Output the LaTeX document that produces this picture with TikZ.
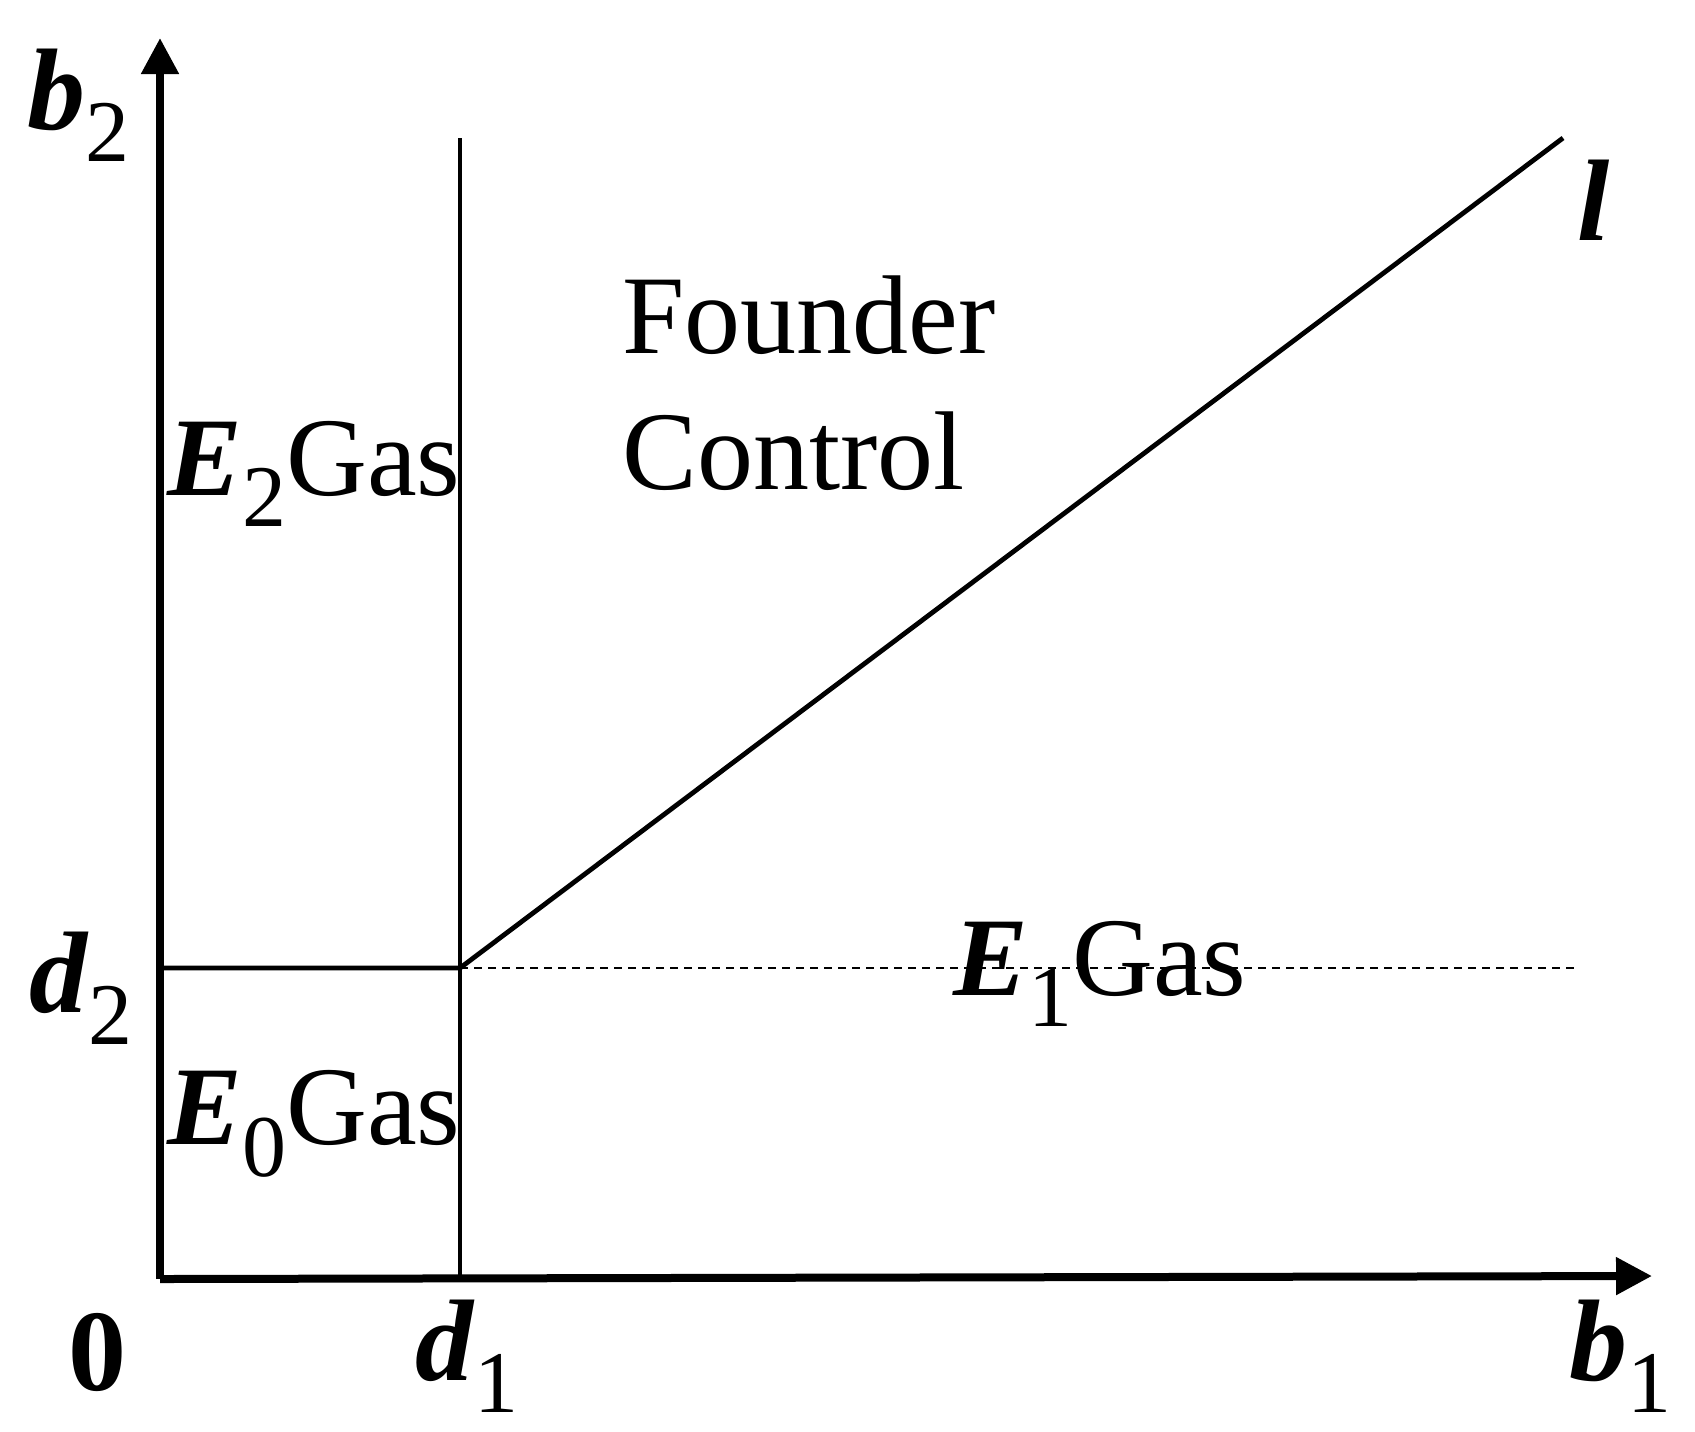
\documentclass[tikz,border=0pt]{standalone}
\usepackage{fontspec}
\setmainfont{Liberation Serif}
\usetikzlibrary{arrows.meta}
\newcommand{\mv}[2]{\textbf{\textit{#1}}\raisebox{-0.28em}{\fontsize{44}{46}\selectfont #2}}
\begin{document}
\begin{tikzpicture}[x=0.5pt,y=-0.5pt,
  lab/.style={font=\fontsize{56}{60}\selectfont,inner sep=0pt},
  mth/.style={font=\fontsize{58}{60}\selectfont,inner sep=0pt},
  axis/.style={line width=4pt,-{Triangle[length=18pt,width=18pt]}},
  thin/.style={line width=1.6pt}]
\useasboundingbox (0,0) rectangle (1695,1431);
\coordinate (O) at (160,1279);
\coordinate (Ytop) at (160,38);
\coordinate (Xend) at (1652,1276);
\coordinate (D1top) at (460,138);
\coordinate (D1bot) at (460,1279);
\coordinate (D2left) at (160,968);
\coordinate (P) at (460,968);
\coordinate (Lend) at (1563,138);
\coordinate (Dend) at (1576,968);
\draw[axis] (O) -- (Ytop);
\draw[axis] (O) -- (Xend);
\draw[thin] (D1top) -- (D1bot);
\draw[line width=2.4pt] (D2left) -- (P) -- (Lend);
\draw[line width=0.8pt,dash pattern=on 4pt off 3pt] (P) -- (Dend);
\node[mth] (b2) at (78,105) {\mv{b}{2}};
\node[mth] (d2) at (81,988) {\mv{d}{2}};
\node[mth] (zero) at (97,1352) {\textbf{0}};
\node[mth] (d1) at (467,1356) {\mv{d}{1}};
\node[mth] (b1) at (1620,1356) {\mv{b}{1}};
\node[mth] (l) at (1594,200) {\textbf{\textit{l}}};
\node[lab] (e2) at (314,474) {\mv{E}{2}Gas};
\node[lab] (e0) at (314,1124) {\mv{E}{0}Gas};
\node[lab] (e1) at (1100,974) {\mv{E}{1}Gas};
\node[lab,anchor=north west,align=left] (fc) at (622,275) {Founder\\[8pt]Control};
\end{tikzpicture}
\end{document}
